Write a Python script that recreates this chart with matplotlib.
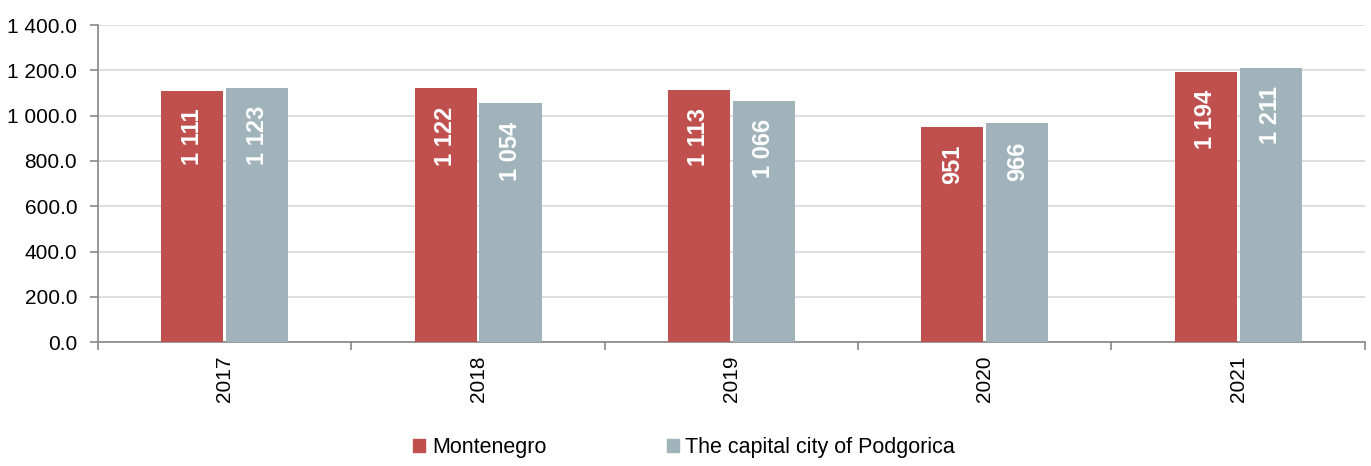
import matplotlib
matplotlib.use("Agg")
import matplotlib.pyplot as plt
import numpy as np
from matplotlib.patches import Patch

years = ["2017", "2018", "2019", "2020", "2021"]
montenegro = [1111, 1122, 1113, 951, 1194]
podgorica = [1123, 1054, 1066, 966, 1211]
series_names = ["Montenegro", "The capital city of Podgorica"]
yticks = [0, 200, 400, 600, 800, 1000, 1200, 1400]

red = "#C0504D"
grey = "#A0B3BA"

plt.rcParams['font.family'] = ['Liberation Sans', 'DejaVu Sans']

fig = plt.figure(figsize=(13.71, 4.66), dpi=100)
ax = fig.add_axes([0.0715, 0.266, 0.924, 0.68])

x = np.arange(len(years))
w = 0.245
off = 0.128
b1 = ax.bar(x - off, montenegro, w, color=red, zorder=3)
b2 = ax.bar(x + off, podgorica, w, color=grey, zorder=3)

def fmt(v):
    return f"{v:,}".replace(",", " ")

for bars, vals in ((b1, montenegro), (b2, podgorica)):
    for r, v in zip(bars, vals):
        ax.annotate(fmt(v), (r.get_x() + r.get_width() / 2, r.get_height()),
                    xytext=(0, -13), textcoords="offset points",
                    rotation=90, ha="center", va="top", color="white",
                    fontsize=17, fontweight="bold", zorder=4)

ax.set_xlim(-0.5, len(years) - 0.5)
ax.set_ylim(0, 1400)
ax.set_yticks(yticks)
ax.set_yticklabels([f"{v:,.1f}".replace(",", " ") for v in yticks], fontsize=15)
ax.yaxis.grid(True, color="#D9D9D9", linewidth=1.2, zorder=0)

ax.set_xticks(x)
ax.set_xticklabels(years, rotation=90, fontsize=15)
ax.tick_params(axis="x", length=0, pad=10)
ax.set_xticks(np.arange(-0.5, len(years)), minor=True)
ax.tick_params(axis="x", which="minor", length=6, color="#868686", width=1.2)
ax.tick_params(axis="y", length=6, color="#868686", width=1.2, pad=9)

for s in ("top", "right"):
    ax.spines[s].set_visible(False)
for s in ("left", "bottom"):
    ax.spines[s].set_color("#868686")
    ax.spines[s].set_linewidth(1.2)

handles = [Patch(color=red), Patch(color=grey)]
fig.legend(handles, series_names, loc="lower center", bbox_to_anchor=(0.499, -0.025),
           ncol=2, frameon=False, fontsize=15.5, handlelength=0.55, handleheight=0.55,
           handletextpad=0.3, columnspacing=5.6)

fig.savefig("out.png", dpi=100)
